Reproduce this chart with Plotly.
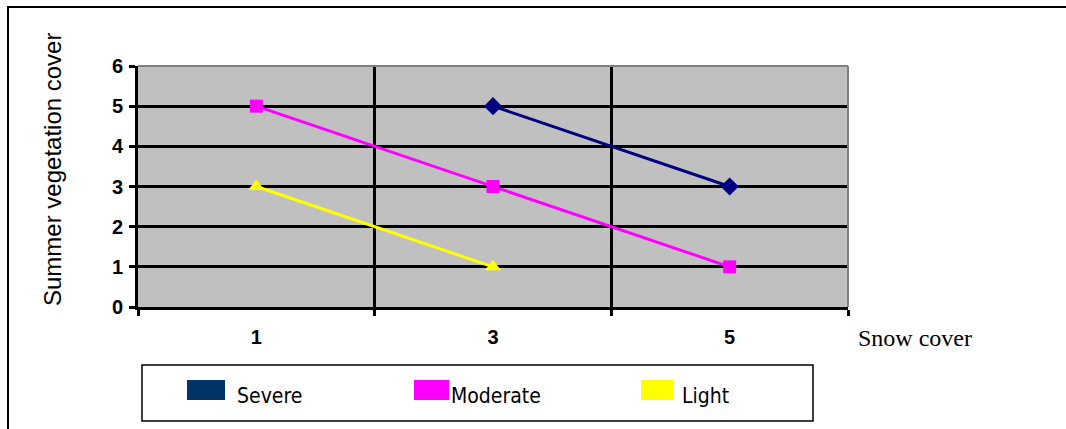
import plotly.graph_objects as go

# Snow cover categories and summer vegetation cover per damage class
snow_cover = ["1", "3", "5"]
severe_x = ["3", "5"]
severe_y = [5, 3]
moderate_x = ["1", "3", "5"]
moderate_y = [5, 3, 1]
light_x = ["1", "3"]
light_y = [3, 1]
y_ticks = [0, 1, 2, 3, 4, 5, 6]

W, H = 1066, 429
L, R, T, B = 138, 218, 66, 122
PW, PH = W - L - R, H - T - B


def px_x(p):
    return (p - L) / PW


def px_y(p):
    return 1 - (p - T) / PH


fig = go.Figure()
series = [
    ("Severe", severe_x, severe_y, "#000080", "diamond", 14),
    ("Moderate", moderate_x, moderate_y, "#FF00FF", "square", 13),
    ("Light", light_x, light_y, "#FFFF00", "triangle-up", 14),
]
for name, xs, ys, color, sym, size in series:
    fig.add_trace(go.Scatter(
        x=xs, y=ys, name=name, mode="lines+markers",
        line=dict(color=color, width=3),
        marker=dict(symbol=sym, size=size, color=color, line=dict(width=0)),
        showlegend=False, cliponaxis=False,
    ))

shapes = []
annotations = []

# outer chart frame
shapes.append(dict(type="rect", xref="paper", yref="paper",
                   x0=px_x(8), x1=px_x(1075), y0=px_y(440), y1=px_y(7),
                   line=dict(color="black", width=2), fillcolor="rgba(0,0,0,0)",
                   layer="below"))
# plot area right/top edge
shapes.append(dict(type="line", xref="paper", yref="paper",
                   x0=1, x1=1, y0=0, y1=1, line=dict(color="#808080", width=2)))
shapes.append(dict(type="line", xref="paper", yref="paper",
                   x0=0, x1=1, y0=1, y1=1, line=dict(color="#808080", width=2)))

# legend box
shapes.append(dict(type="rect", xref="paper", yref="paper",
                   x0=px_x(142), x1=px_x(813), y0=px_y(421), y1=px_y(365),
                   line=dict(color="black", width=1.5), fillcolor="white"))
legend_items = [
    ("Severe", "#003366", 187, 225, 235),
    ("Moderate", "#FF00FF", 414, 449, 449),
    ("Light", "#FFFF00", 641, 674, 680),
]
for label, color, sx0, sx1, tx in legend_items:
    shapes.append(dict(type="rect", xref="paper", yref="paper",
                       x0=px_x(sx0), x1=px_x(sx1), y0=px_y(400), y1=px_y(380),
                       line=dict(width=0), fillcolor=color))
    annotations.append(dict(x=px_x(tx), y=px_y(396), xref="paper", yref="paper",
                            text=label, showarrow=False, xanchor="left", yanchor="middle",
                            font=dict(family="DejaVu Sans Condensed, Liberation Sans Narrow, Arial Narrow",
                                      size=21, color="black")))

# axis titles
annotations.append(dict(x=px_x(52), y=px_y(170), xref="paper", yref="paper",
                        text="Summer vegetation cover", textangle=-90, showarrow=False,
                        xanchor="center", yanchor="middle",
                        font=dict(family="Liberation Sans, Arial", size=24, color="black")))
annotations.append(dict(x=px_x(856), y=px_y(338), xref="paper", yref="paper",
                        text="Snow cover", showarrow=False, xanchor="left", yanchor="middle",
                        font=dict(family="Liberation Serif, Times New Roman", size=24,
                                  color="black")))

tick_font = dict(family="Liberation Sans, Arial", size=20, color="black", weight="bold")

fig.update_layout(
    width=W, height=H,
    margin=dict(l=L, r=R, t=T, b=B),
    paper_bgcolor="white",
    plot_bgcolor="#C0C0C0",
    shapes=shapes,
    annotations=annotations,
    xaxis=dict(
        type="category", categoryorder="array", categoryarray=snow_cover,
        range=[-0.5, 2.5], tickson="boundaries",
        showgrid=True, gridcolor="black", gridwidth=2.5,
        showline=True, linecolor="black", linewidth=3,
        ticks="outside", ticklen=6, tickwidth=2.5, tickcolor="black",
        tickfont=tick_font, ticklabelstandoff=10,
        zeroline=False, fixedrange=True,
    ),
    yaxis=dict(
        range=[0, 6], tickvals=y_ticks,
        showgrid=True, gridcolor="black", gridwidth=3,
        showline=True, linecolor="black", linewidth=3,
        ticks="outside", ticklen=6, tickwidth=2.5, tickcolor="black",
        tickfont=tick_font, ticklabelstandoff=2,
        zeroline=False, fixedrange=True,
    ),
)

fig.write_html("out.html", config={"displayModeBar": False})
